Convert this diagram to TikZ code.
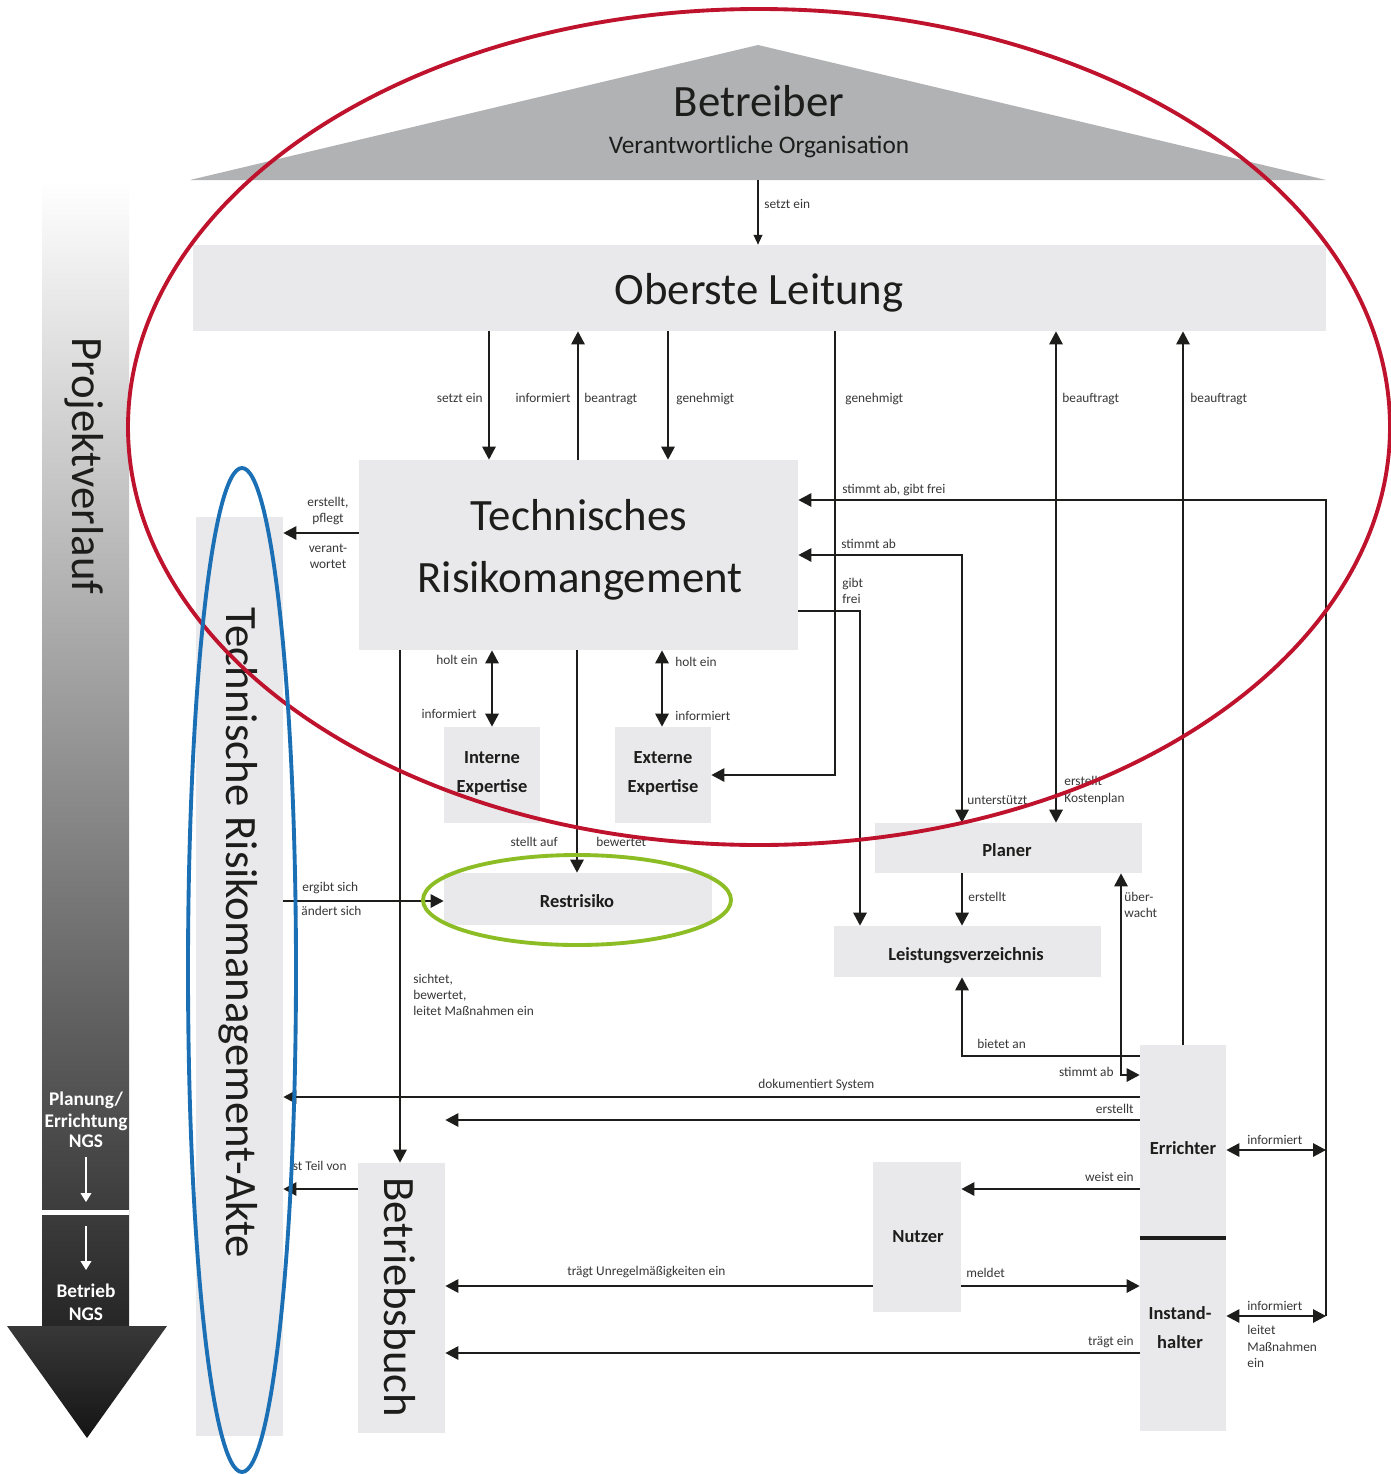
\documentclass[tikz,border=0pt]{standalone}
\usepackage{fontspec}
\setmainfont{Carlito}
\usetikzlibrary{arrows.meta,fit}

\definecolor{boxgray}{RGB}{233,233,235}
\definecolor{roofgray}{RGB}{177,178,180}
\definecolor{ink}{RGB}{29,29,27}
\definecolor{labelink}{RGB}{55,55,55}
\definecolor{ringred}{RGB}{190,18,45}
\definecolor{ringblue}{RGB}{27,111,181}
\definecolor{ringgreen}{RGB}{141,189,36}

\newcommand\bigfont{\fontsize{25.5pt}{30pt}\selectfont}
\newcommand\subtitlefont{\fontsize{14.4pt}{17pt}\selectfont}
\newcommand\lblfont{\fontsize{7.6pt}{9pt}\selectfont}
\newcommand\boxfont{\fontsize{10.5pt}{13pt}\selectfont\bfseries}

\begin{document}
\begin{tikzpicture}[x=0.02cm,y=-0.02cm,
  box/.style={fill=boxgray,draw=none,inner sep=0pt},
  big/.style={font=\bigfont,text=ink,inner sep=0pt,anchor=base},
  boxlbl/.style={font=\boxfont,text=ink,inner sep=0pt,anchor=base},
  phase/.style={font=\fontsize{11pt}{13pt}\selectfont\bfseries,text=white,inner sep=0pt,anchor=base},
  lbl/.style={font=\lblfont,text=labelink,inner sep=0pt,anchor=base west},
  lblr/.style={font=\lblfont,text=labelink,inner sep=0pt,anchor=base east},
  lblc/.style={font=\lblfont,text=labelink,inner sep=0pt,anchor=base},
  arr/.style={line width=1.1pt,draw=ink,-{Triangle[length=7.4pt,width=7.6pt]}},
  dblarr/.style={line width=1.1pt,draw=ink,{Triangle[length=7.4pt,width=7.6pt]}-{Triangle[length=7.4pt,width=7.6pt]}},
  thinarr/.style={line width=0.6pt,draw=ink,-{Triangle[length=5.5pt,width=5pt]}},
  ring/.style={line width=2.2pt,fill=none}]

\useasboundingbox[fill=white] (0,0) rectangle (1390,1474);

% project timeline arrow on the left
\shade[top color=white,bottom color=black!85] (42,180) rectangle (129,1326);
\shade[top color=black!78,bottom color=black!92] (7,1326) -- (167,1326) -- (87,1438) -- cycle;
\fill[white] (42,1210) rectangle (129,1215);
\draw[white,line width=0.8pt,-{Triangle[length=5pt,width=6pt]}] (86,1157) -- (86,1202);
\draw[white,line width=0.8pt,-{Triangle[length=5pt,width=6pt]}] (86,1226) -- (86,1270);
\node[big,rotate=-90] (pv) at (72,466) {Projektverlauf};
\node[phase] (ph1) at (86,1105) {Planung/};
\node[phase] (ph2) at (86,1127) {Errichtung};
\node[phase] (ph3) at (86,1147) {NGS};
\node[phase] (ph4) at (86,1297) {Betrieb};
\node[phase] (ph5) at (86,1320) {NGS};

% roof: operator
\fill[roofgray] (190,180) -- (758,45) -- (1326,180) -- cycle;
\coordinate (roofbase) at (758,180);
\node[big] (betr) at (759,116) {Betreiber};
\node[big,font=\subtitlefont] (vorg) at (759,153) {Verantwortliche Organisation};

% boxes
\node[box,fit={(193,245)(1326,331)}] (ol) {};
\node[box,fit={(359,460)(798,650)}] (trm) {};
\node[box,fit={(196,517)(283,1436)}] (akte) {};
\node[box,fit={(444,727)(540,823)}] (intexp) {};
\node[box,fit={(615,727)(711,823)}] (extexp) {};
\node[box,fit={(444,873)(712,925)}] (rest) {};
\node[box,fit={(875,823)(1142,873)}] (planer) {};
\node[box,fit={(834,926)(1101,977)}] (lv) {};
\node[box,fit={(1140,1045)(1226,1238)}] (err) {};
\node[box,fit={(1140,1238)(1226,1431)}] (inst) {};
\node[box,fit={(873,1162)(961,1312)}] (nutzer) {};
\node[box,fit={(358,1163)(445,1433)}] (bb) {};
\draw[ink,line width=2.4pt] (err.south west) -- (err.south east);

% box texts
\node[big] (olt) at (759,304) {Oberste Leitung};
\node[big] (trmt1) at (579,530) {Technisches};
\node[big] (trmt2) at (580,592) {Risikomangement};
\node[big,rotate=-90] (aktet) at (226,933) {Technische Risikomanagement-Akte};
\node[big,rotate=-90] (bbt) at (384,1297) {Betriebsbuch};
\node[boxlbl] (it1) at (492,763) {Interne};
\node[boxlbl] (it2) at (492,792) {Expertise};
\node[boxlbl] (et1) at (663,763) {Externe};
\node[boxlbl] (et2) at (663,792) {Expertise};
\node[boxlbl] (rt) at (577,907) {Restrisiko};
\node[boxlbl] (pt) at (1007,856) {Planer};
\node[boxlbl] (lvt) at (966,960) {Leistungsverzeichnis};
\node[boxlbl] (errt) at (1183,1154) {Errichter};
\node[boxlbl] (nt) at (918,1242) {Nutzer};
\node[boxlbl] (ist1) at (1180,1319) {Instand-};
\node[boxlbl] (ist2) at (1180,1348) {halter};

% connectors: top
\draw[thinarr] (roofbase) -- (ol.north -| 758,0);
\node[lbl] (c1) at (764,208) {setzt ein};
\draw[arr] (ol.south -| 489,0) -- (trm.north -| 489,0);
\node[lblr] (c2) at (483,402) {setzt ein};
\draw[arr] (trm.north -| 578,0) -- (ol.south -| 578,0);
\node[lblr] (c3) at (571,402) {informiert};
\node[lbl] (c4) at (584,402) {beantragt};
\draw[arr] (ol.south -| 668,0) -- (trm.north -| 668,0);
\node[lbl] (c5) at (676,402) {genehmigt};
\draw[arr] (ol.south -| 835,0) |- (extexp.east |- 0,775);
\node[lbl] (c6) at (845,402) {genehmigt};
\draw[dblarr] (ol.south -| 1056,0) -- (planer.north -| 1056,0);
\node[lbl] (c7) at (1062,402) {beauftragt};
\node[lbl] (c8a) at (1064,785) {erstellt};
\node[lbl] (c8b) at (1064,802) {Kostenplan};
\draw[arr] (err.north -| 1183,0) -- (ol.south -| 1183,0);
\node[lbl] (c9) at (1190,402) {beauftragt};

% right-hand bus
\coordinate (bustop) at (1326,500);
\coordinate (busE) at (1326,1150);
\coordinate (busI) at (1326,1316);
\draw[arr] (busI) -- (bustop) -- (trm.east |- bustop);
\node[lbl] (c10) at (842,493) {stimmt ab, gibt frei};
\draw[dblarr] (err.east |- busE) -- (busE);
\node[lbl] (c11) at (1247,1144) {informiert};
\draw[dblarr] (inst.east |- busI) -- (busI);
\node[lbl] (c12) at (1247,1310) {informiert};
\node[lbl] (c12a) at (1247,1334) {leitet};
\node[lbl] (c12b) at (1247,1351) {Maßnahmen};
\node[lbl] (c12c) at (1247,1367) {ein};

% technical risk management: right side
\draw[dblarr] (trm.east |- 0,555) -| (planer.north -| 962,0);
\node[lbl] (c13) at (841,548) {stimmt ab};
\node[lbl] (c14) at (967,804) {unterstützt};
\draw[arr] (trm.east |- 0,611) -| (lv.north -| 860,0);
\node[lbl] (c15a) at (842,587) {gibt};
\node[lbl] (c15b) at (842,603) {frei};

% technical risk management: left and bottom
\draw[arr] (trm.west |- 0,533) -- (akte.east |- 0,533);
\node[lblc] (c16a) at (328,506) {erstellt,};
\node[lblc] (c16b) at (328,522) {pflegt};
\node[lblc] (c16c) at (328,552) {verant-};
\node[lblc] (c16d) at (328,568) {wortet};
\draw[arr] (trm.south -| 400,0) -- (bb.north -| 400,0);
\node[lbl] (c17a) at (413,983) {sichtet,};
\node[lbl] (c17b) at (413,999) {bewertet,};
\node[lbl] (c17c) at (413,1015) {leitet Maßnahmen ein};
\draw[dblarr] (trm.south -| 492,0) -- (intexp.north -| 492,0);
\node[lblr] (c18a) at (478,664) {holt ein};
\node[lblr] (c18b) at (477,718) {informiert};
\draw[arr] (trm.south -| 577,0) -- (rest.north -| 577,0);
\node[lblr] (c19a) at (558,846) {stellt auf};
\node[lbl] (c19b) at (596,846) {bewertet};
\draw[dblarr] (trm.south -| 662,0) -- (extexp.north -| 662,0);
\node[lbl] (c20a) at (675,666) {holt ein};
\node[lbl] (c20b) at (675,720) {informiert};
\draw[arr] (akte.east |- 0,901) -- (rest.west |- 0,901);
\node[lbl] (c21a) at (302,891) {ergibt sich};
\node[lbl] (c21b) at (301,915) {ändert sich};

% planning
\draw[arr] (planer.south -| 962,0) -- (lv.north -| 962,0);
\node[lbl] (c22) at (968,901) {erstellt};
\draw[dblarr] (planer.south -| 1121,0) |- (err.west |- 0,1075);
\node[lbl] (c23a) at (1124,901) {über-};
\node[lbl] (c23b) at (1124,917) {wacht};
\node[lblr] (c23c) at (1114,1076) {stimmt ab};
\draw[arr] (err.west |- 0,1056) -| (lv.south -| 962,0);
\node[lbl] (c24) at (977,1048) {bietet an};

% construction and operation
\draw[arr] (err.west |- 0,1097) -- (akte.east |- 0,1097);
\node[lbl] (c25) at (758,1088) {dokumentiert System};
\draw[arr] (err.west |- 0,1120) -- (bb.east |- 0,1120);
\node[lblr] (c26) at (1134,1113) {erstellt};
\draw[arr] (err.west |- 0,1189) -- (nutzer.east |- 0,1189);
\node[lblr] (c27) at (1134,1181) {weist ein};
\draw[arr] (nutzer.west |- 0,1286) -- (bb.east |- 0,1286);
\node[lbl] (c28) at (567,1275) {trägt Unregelmäßigkeiten ein};
\draw[arr] (nutzer.east |- 0,1286) -- (inst.west |- 0,1286);
\node[lbl] (c29) at (966,1277) {meldet};
\draw[arr] (inst.west |- 0,1353) -- (bb.east |- 0,1353);
\node[lblr] (c30) at (1134,1345) {trägt ein};
\draw[arr,line width=0.8pt] (bb.west |- 0,1189) -- (akte.east |- 0,1189);
\node[lbl] (c31) at (289.5,1170) {ist Teil von};

% highlight rings
\draw[ring,draw=ringred] (759,427) ellipse [x radius=631,y radius=418];
\draw[ring,draw=ringblue] (242,970) ellipse [x radius=54,y radius=502];
\draw[ring,draw=ringgreen] (577,900) ellipse [x radius=154,y radius=45];

\end{tikzpicture}
\end{document}
